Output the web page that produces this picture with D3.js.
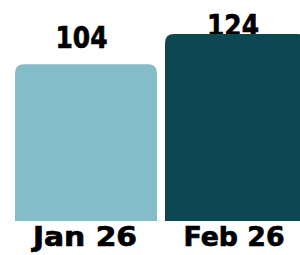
<!DOCTYPE html>
<html lang="en">
<head>
    <meta charset="UTF-8">
    <script src="https://d3js.org/d3.v7.min.js"></script>
    <style>
        body { margin: 0; background: #fff; }
        .lbl { font-family: "DejaVu Sans", sans-serif; font-weight: bold; fill: #000; stroke: #000; stroke-width: 0.7; }
    </style>
</head>
<body>
    <svg width="300" height="255"></svg>
    <script>
        const months = ["Jan 26", "Feb 26"];
        const values = [104, 124];
        const colors = ["#84bdc8", "#0d4751"];

        const baseline = 221;
        const svg = d3.select("svg");

        const x = d3.scaleBand()
            .domain(months)
            .range([15, 307])
            .paddingInner(8 / 150)
            .paddingOuter(0);

        const y = d3.scaleLinear()
            .domain([0, 124])
            .range([baseline, 34]);

        // value labels go under the bars (the tall one is partly hidden)
        svg.selectAll("text.val")
            .data(values)
            .enter().append("text")
            .attr("class", "lbl val")
            .attr("text-anchor", "middle")
            .attr("font-size", 31)
            .attr("textLength", 52)
            .attr("lengthAdjust", "spacingAndGlyphs")
            .attr("x", (d, i) => x(months[i]) + x.bandwidth() / 2 - (i ? 3 : 4.5))
            .attr("y", d => Math.max(y(d) - 16.5, 36))
            .text(d => d);

        function topRounded(x0, y0, w, h, r) {
            return `M${x0},${y0 + h}V${y0 + r}Q${x0},${y0} ${x0 + r},${y0}` +
                   `H${x0 + w - r}Q${x0 + w},${y0} ${x0 + w},${y0 + r}V${y0 + h}Z`;
        }

        svg.selectAll("path.bar")
            .data(values)
            .enter().append("path")
            .attr("class", "bar")
            .attr("fill", (d, i) => colors[i])
            .attr("d", (d, i) => topRounded(x(months[i]), y(d), x.bandwidth(), baseline - y(d), 9));

        svg.selectAll("text.cat")
            .data(months)
            .enter().append("text")
            .attr("class", "lbl cat")
            .attr("text-anchor", "middle")
            .attr("font-size", 26)
            .attr("textLength", (d, i) => i ? 101 : 104)
            .attr("lengthAdjust", "spacingAndGlyphs")
            .attr("x", (d, i) => x(d) + x.bandwidth() / 2 - (i ? 2 : 1))
            .attr("y", 245.5)
            .text(d => d);
    </script>
</body>
</html>
